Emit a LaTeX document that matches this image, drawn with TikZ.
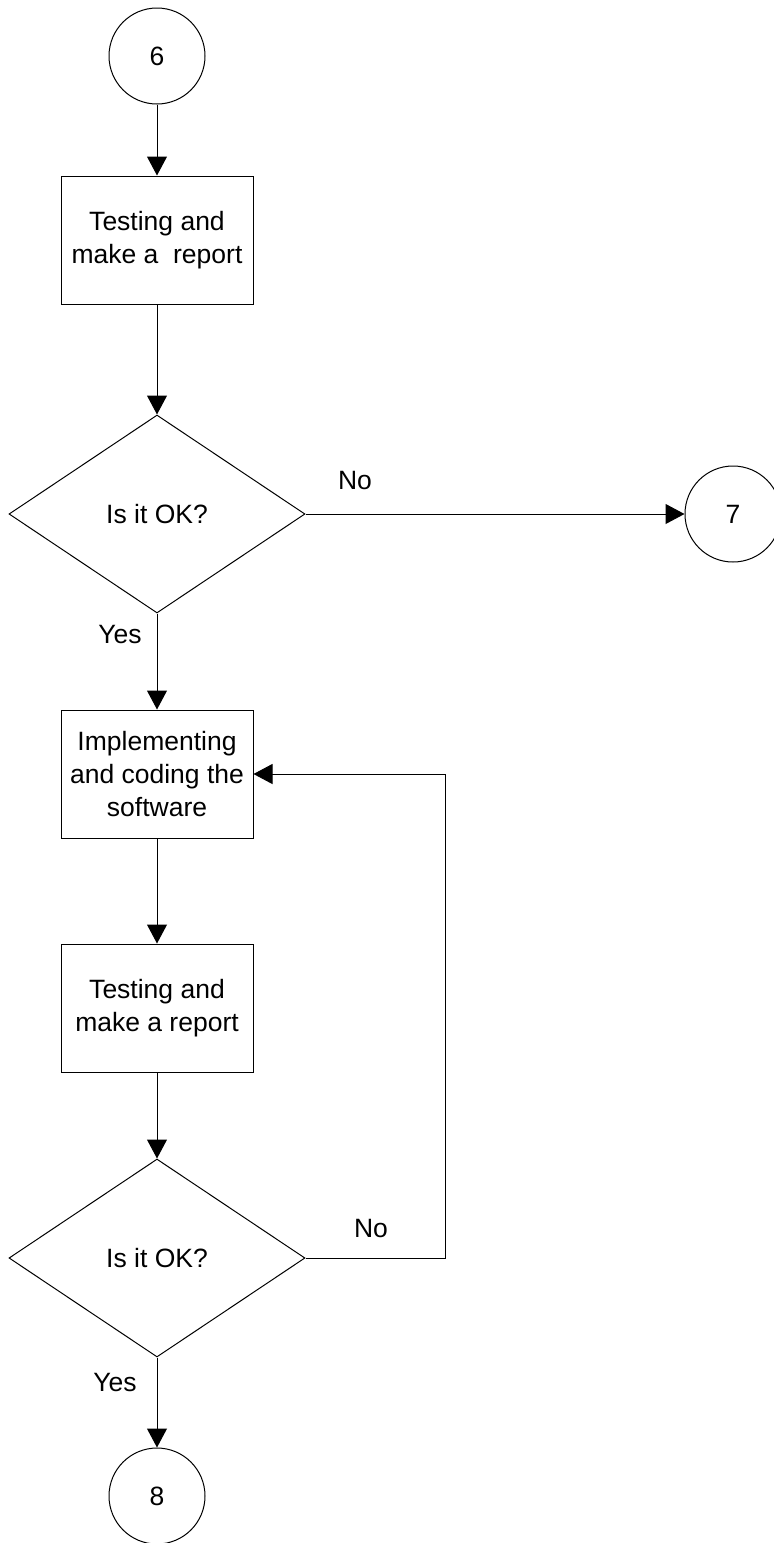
\documentclass[tikz,border=0pt]{standalone}
\usepackage{fontspec}
\setmainfont{Liberation Sans}
\usetikzlibrary{shapes.geometric,arrows.meta}

\begin{document}
\begin{tikzpicture}[x=1pt,y=-1pt,
            every node/.style={font=\fontsize{26.5}{33}\selectfont},
            stepbox/.style={draw,line width=1pt,minimum width=192pt,minimum height=128pt,align=center,inner sep=0pt},
            ask/.style={draw,diamond,line width=1pt,minimum width=296pt,minimum height=198pt,inner sep=0pt},
            link/.style={draw,circle,line width=1pt,minimum size=96pt,inner sep=0pt},
            flow/.style={line width=1pt,-{Triangle[length=19pt,width=20pt]}}]
            \useasboundingbox (0,0) rectangle (774,1543);
            \node[link] (c6) at (157,56) {6};
            \node[stepbox] (test1) at (157,240) {Testing and\\make a\ \ report};
            \node[ask] (ok1) at (157,514) {Is it OK?};
            \node[link] (c7) at (733,514) {7};
            \node[stepbox] (impl) at (157,774) {Implementing\\and coding the\\software};
            \node[stepbox] (test2) at (157,1008) {Testing and\\make a report};
            \node[ask] (ok2) at (157,1258) {Is it OK?};
            \node[link] (c8) at (157,1496) {8};
            \coordinate (back) at (445,1258);
            \draw[flow] (c6) -- (test1);
            \draw[flow] (test1) -- (ok1);
            \draw[flow] (ok1.east) -- (c7);
            \draw[flow] (ok1.south) -- (impl);
            \draw[flow] (impl) -- (test2);
            \draw[flow] (test2) -- (ok2);
            \draw[flow] (ok2.east) -- (back) |- (impl.east);
            \draw[flow] (ok2.south) -- (c8);
            \node (no1) at (355,481) {No};
            \node (yes1) at (120,635) {Yes};
            \node (no2) at (371,1228) {No};
            \node (yes2) at (115,1382) {Yes};
        \end{tikzpicture}
\end{document}
